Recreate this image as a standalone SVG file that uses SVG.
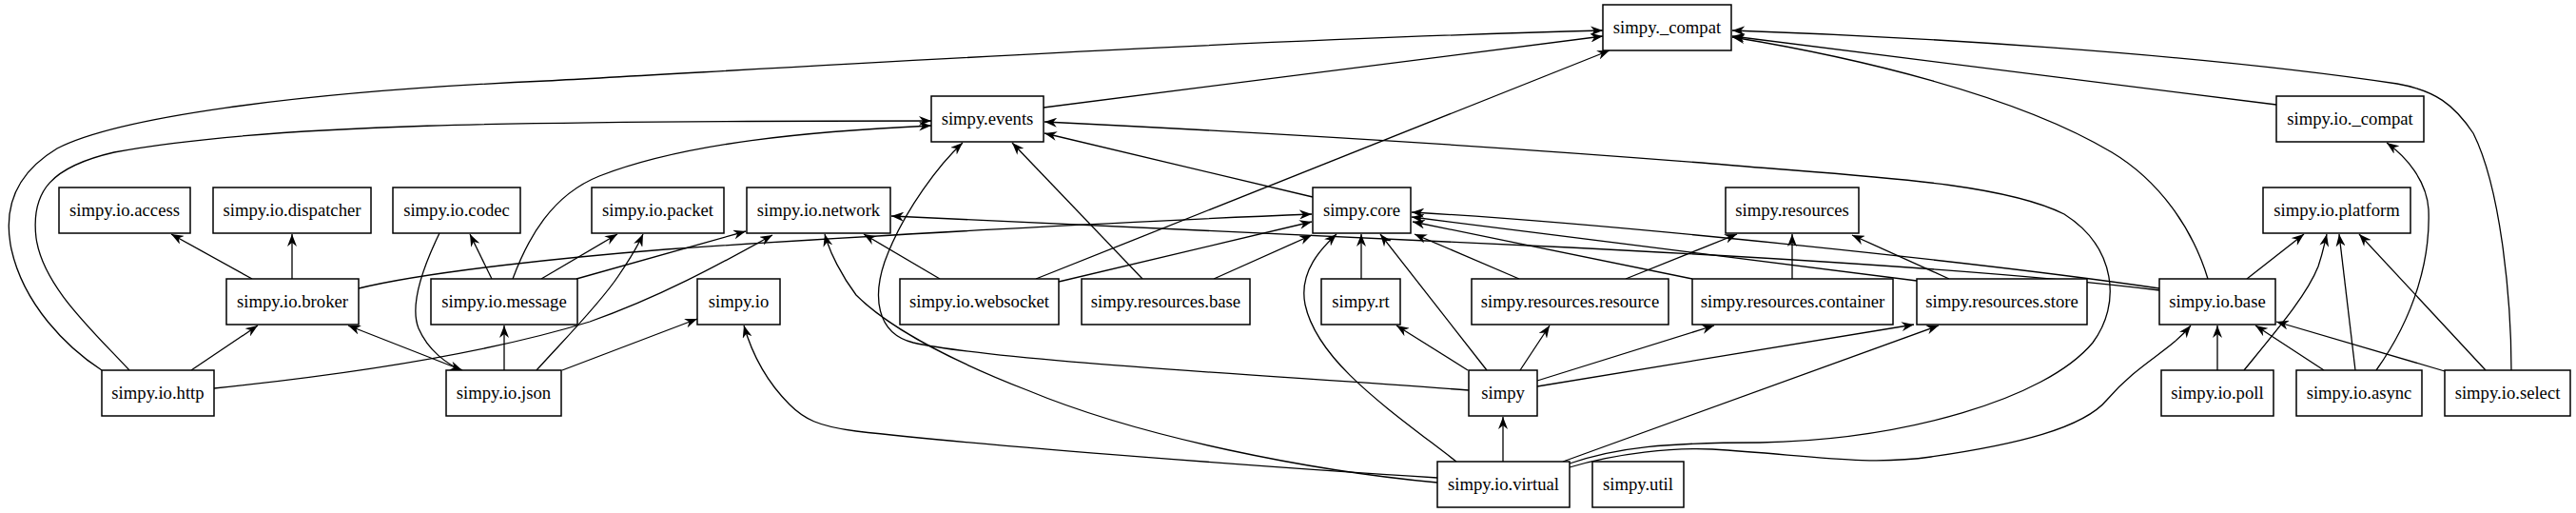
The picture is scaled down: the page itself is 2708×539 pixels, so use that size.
<svg xmlns="http://www.w3.org/2000/svg" width="2708" height="539" viewBox="0 0 2708 539">
<style>
.n rect{fill:#fff;stroke:#000;stroke-width:1.5}
.n text{font-family:"Liberation Serif","Times New Roman",serif;font-size:18.67px;text-anchor:middle;fill:#000}
.e path{fill:none;stroke:#000;stroke-width:1.3;marker-end:url(#a)}
</style>
<defs>
<marker id="a" markerUnits="userSpaceOnUse" markerWidth="14" markerHeight="10" refX="13" refY="5" orient="auto">
<path d="M0,0 L13,5 L0,10 L4,5 Z" fill="#000"/>
</marker>
</defs>
<rect width="2708" height="539" fill="#fff"/>
<g class="e" id="edges">
<path d="M107,389 C70,365 25,320 12,262 C2,215 20,180 60,156 C120,125 300,97 574,85 C850,70 1300,42 1685,32"/>
<path d="M136,389 C95,345 45,300 38,250 C32,200 55,175 120,160 C280,130 550,127 979,127"/>
<path d="M201,389 L271,342"/>
<path d="M225,408 C350,395 500,375 620,338 C700,310 770,270 812,247"/>
<path d="M265,293 L180,246"/>
<path d="M307,293 L307,246"/>
<path d="M377,303 C450,285 600,270 700,262 C900,248 1200,232 1379,225"/>
<path d="M517,293 L494,246"/>
<path d="M539,293 C555,250 580,205 630,185 C720,150 850,138 979,132"/>
<path d="M569,293 L649,246"/>
<path d="M606,293 L784,243"/>
<path d="M462,245 C445,280 430,320 440,345 C450,368 470,383 486,389"/>
<path d="M530,389 L530,342"/>
<path d="M591,389 L733,335"/>
<path d="M564,389 C590,360 630,320 650,290 C665,268 672,255 676,246"/>
<path d="M486,389 L366,342"/>
<path d="M988,293 L908,246"/>
<path d="M1089,293 L1692,53"/>
<path d="M1113,296 L1379,233"/>
<path d="M1201,293 L1064,150"/>
<path d="M1276,293 L1379,247"/>
<path d="M1097,113 L1685,38"/>
<path d="M1380,207 L1098,140"/>
<path d="M1544,410 C1350,395 1050,380 960,360 C920,350 918,310 930,275 C950,220 990,170 1012,150"/>
<path d="M1543,389 L1468,342"/>
<path d="M1563,389 L1451,246"/>
<path d="M1598,389 L1629,342"/>
<path d="M1616,400 L1802,342"/>
<path d="M1616,406 L2012,341"/>
<path d="M1431,293 L1431,246"/>
<path d="M1580,485 L1580,438"/>
<path d="M1531,485 C1460,430 1385,380 1372,320 C1365,285 1390,260 1405,246"/>
<path d="M1643,485 L2038,342"/>
<path d="M1511,507 C1380,495 1200,460 1080,410 C990,375 930,340 900,310 C885,290 872,265 867,246"/>
<path d="M1511,502 C1350,492 1050,470 900,453 C860,448 845,440 830,425 C805,400 790,370 782,342"/>
<path d="M1650,487 C1700,470 1750,465 1850,465 C2000,462 2150,420 2200,360 C2230,320 2225,260 2170,225 C2100,190 1950,185 1800,172 C1500,148 1200,133 1098,128"/>
<path d="M1650,491 C1700,476 1760,470 1800,472 C1900,478 1960,490 2030,480 C2120,467 2190,450 2215,420 C2250,380 2280,370 2303,342"/>
<path d="M1597,293 L1487,246"/>
<path d="M1709,293 L1826,246"/>
<path d="M1779,293 L1485,233"/>
<path d="M1884,293 L1884,246"/>
<path d="M2015,295 L1484,228"/>
<path d="M2049,293 L1947,247"/>
<path d="M2270,303 C2100,278 1700,235 1484,223"/>
<path d="M2270,305 C2150,290 1950,275 1650,260 C1350,245 1100,235 937,227"/>
<path d="M2362,293 L2422,246"/>
<path d="M2321,293 C2305,240 2270,190 2220,160 C2120,100 1950,60 1821,39"/>
<path d="M2393,110 L1821,38"/>
<path d="M2331,389 L2331,342"/>
<path d="M2359,389 C2395,345 2425,310 2437,280 C2442,265 2444,255 2446,246"/>
<path d="M2443,389 L2371,342"/>
<path d="M2476,389 L2459,246"/>
<path d="M2498,389 C2540,330 2555,270 2553,220 C2551,190 2530,165 2509,150"/>
<path d="M2570,390 L2393,338"/>
<path d="M2613,389 L2480,246"/>
<path d="M2640,389 C2640,320 2630,200 2600,140 C2580,110 2560,95 2520,88 C2300,55 2000,38 1821,32"/>
</g>
<g class="n" id="n_compat"><rect x="1685" y="5" width="135" height="48"/><text x="1752.5" y="35">simpy._compat</text></g>
<g class="n" id="n_events"><rect x="979" y="101" width="118" height="48"/><text x="1038" y="131">simpy.events</text></g>
<g class="n" id="n_io_compat"><rect x="2393" y="101" width="155" height="48"/><text x="2470.5" y="131">simpy.io._compat</text></g>
<g class="n" id="n_io_access"><rect x="62" y="197" width="138" height="48"/><text x="131" y="227">simpy.io.access</text></g>
<g class="n" id="n_io_dispatcher"><rect x="224" y="197" width="166" height="48"/><text x="307" y="227">simpy.io.dispatcher</text></g>
<g class="n" id="n_io_codec"><rect x="413" y="197" width="134" height="48"/><text x="480" y="227">simpy.io.codec</text></g>
<g class="n" id="n_io_packet"><rect x="622" y="197" width="139" height="48"/><text x="691.5" y="227">simpy.io.packet</text></g>
<g class="n" id="n_io_network"><rect x="785" y="197" width="151" height="48"/><text x="860.5" y="227">simpy.io.network</text></g>
<g class="n" id="n_core"><rect x="1380" y="197" width="103" height="48"/><text x="1431.5" y="227">simpy.core</text></g>
<g class="n" id="n_resources"><rect x="1814" y="197" width="140" height="48"/><text x="1884" y="227">simpy.resources</text></g>
<g class="n" id="n_io_platform"><rect x="2379" y="197" width="155" height="48"/><text x="2456.5" y="227">simpy.io.platform</text></g>
<g class="n" id="n_io_broker"><rect x="238" y="293" width="139" height="48"/><text x="307.5" y="323">simpy.io.broker</text></g>
<g class="n" id="n_io_message"><rect x="453" y="293" width="154" height="48"/><text x="530" y="323">simpy.io.message</text></g>
<g class="n" id="n_io"><rect x="733" y="293" width="87" height="48"/><text x="776.5" y="323">simpy.io</text></g>
<g class="n" id="n_io_websocket"><rect x="946" y="293" width="167" height="48"/><text x="1029.5" y="323">simpy.io.websocket</text></g>
<g class="n" id="n_resources_base"><rect x="1137" y="293" width="177" height="48"/><text x="1225.5" y="323">simpy.resources.base</text></g>
<g class="n" id="n_rt"><rect x="1389" y="293" width="83" height="48"/><text x="1430.5" y="323">simpy.rt</text></g>
<g class="n" id="n_resources_resource"><rect x="1547" y="293" width="207" height="48"/><text x="1650.5" y="323">simpy.resources.resource</text></g>
<g class="n" id="n_resources_container"><rect x="1779" y="293" width="211" height="48"/><text x="1884.5" y="323">simpy.resources.container</text></g>
<g class="n" id="n_resources_store"><rect x="2015" y="293" width="179" height="48"/><text x="2104.5" y="323">simpy.resources.store</text></g>
<g class="n" id="n_io_base"><rect x="2270" y="293" width="122" height="48"/><text x="2331" y="323">simpy.io.base</text></g>
<g class="n" id="n_io_http"><rect x="107" y="389" width="118" height="48"/><text x="166" y="419">simpy.io.http</text></g>
<g class="n" id="n_io_json"><rect x="469" y="389" width="121" height="48"/><text x="529.5" y="419">simpy.io.json</text></g>
<g class="n" id="n_simpy"><rect x="1544" y="389" width="72" height="48"/><text x="1580" y="419">simpy</text></g>
<g class="n" id="n_io_poll"><rect x="2272" y="389" width="118" height="48"/><text x="2331" y="419">simpy.io.poll</text></g>
<g class="n" id="n_io_async"><rect x="2414" y="389" width="132" height="48"/><text x="2480" y="419">simpy.io.async</text></g>
<g class="n" id="n_io_select"><rect x="2570" y="389" width="132" height="48"/><text x="2636" y="419">simpy.io.select</text></g>
<g class="n" id="n_io_virtual"><rect x="1511" y="485" width="139" height="48"/><text x="1580.5" y="515">simpy.io.virtual</text></g>
<g class="n" id="n_util"><rect x="1674" y="485" width="96" height="48"/><text x="1722" y="515">simpy.util</text></g>
</svg>
